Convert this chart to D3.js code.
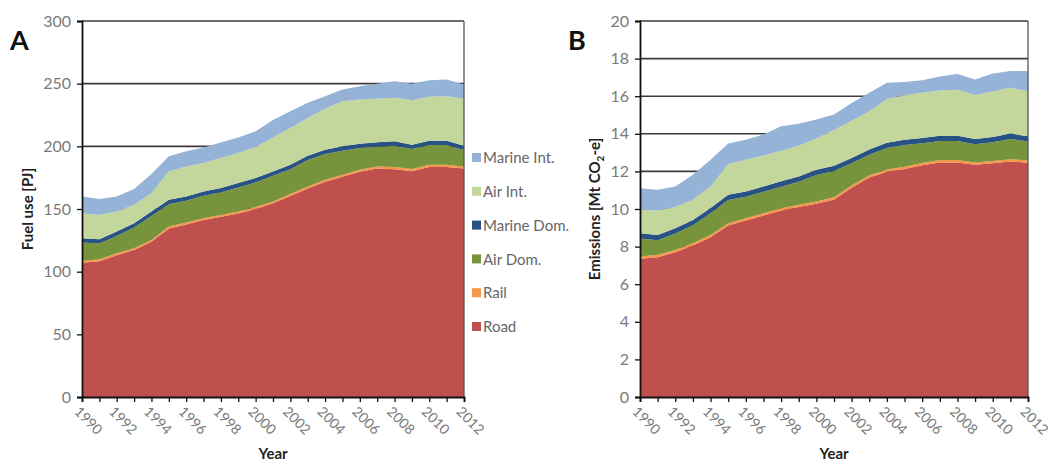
<!DOCTYPE html>
<html>
<head>
<meta charset="utf-8">
<script src="https://cdn.jsdelivr.net/npm/d3@7"></script>
<style>
  html, body { margin: 0; padding: 0; background: #fff; }
  svg { display: block; font-family: Lato, "Open Sans", sans-serif; }
</style>
</head>
<body>
<svg id="chart" width="1054" height="466"></svg>
<script>
// Transport sector, 1990-2012
const years = d3.range(1990, 2013);
const tickYears = d3.range(1990, 2013, 2);

const seriesNames = ["Road", "Rail", "Air Dom.", "Marine Dom.", "Air Int.", "Marine Int."];
const seriesColors = ["#C0504D", "#F79646", "#77933C", "#275283", "#C3D69B", "#95B3D7"];

// Panel A: fuel use [PJ]
const fuelRoad = [107.2, 108.3, 113.1, 117.2, 123.8, 134.5, 137.7, 141.2, 143.8, 146.5, 150.0, 154.5, 160.4, 166.4, 171.7, 175.7, 179.7, 182.3, 181.8, 180.2, 183.6, 183.6, 182.3];
const fuelRail = [1.6, 1.6, 1.6, 1.5, 1.5, 1.5, 1.5, 1.5, 1.5, 1.5, 1.5, 1.5, 1.6, 1.6, 1.6, 1.6, 1.6, 1.7, 1.7, 1.7, 1.7, 1.7, 1.7];
const fuelAirDom = [14.4, 12.5, 13.8, 16.5, 19.2, 17.8, 17.3, 17.8, 17.9, 19.2, 19.7, 20.5, 19.8, 21.0, 20.5, 19.2, 17.3, 15.7, 17.0, 15.9, 15.7, 15.7, 13.0];
const fuelMarineDom = [3.5, 3.5, 3.5, 3.5, 3.5, 3.5, 3.5, 3.5, 3.5, 3.5, 3.5, 3.5, 3.5, 3.5, 3.5, 3.5, 3.5, 3.5, 3.5, 3.5, 3.5, 3.5, 3.5];
const fuelAirInt = [20.0, 19.4, 16.0, 14.6, 14.7, 22.7, 24.0, 22.7, 24.0, 24.0, 24.8, 27.0, 29.4, 30.2, 32.6, 36.0, 35.2, 34.7, 34.7, 35.5, 35.0, 35.5, 37.4];
const fuelMarineInt = [13.3, 12.6, 12.0, 12.7, 15.3, 12.0, 12.0, 12.3, 12.3, 12.3, 12.5, 14.0, 13.3, 12.0, 10.1, 9.3, 10.7, 12.1, 13.3, 13.2, 13.2, 13.3, 11.4];
const fuelTicks = [0, 50, 100, 150, 200, 250, 300];

// Panel B: emissions [Mt CO2-e]
const emisRoad = [7.35, 7.44, 7.70, 8.06, 8.50, 9.12, 9.39, 9.66, 9.92, 10.10, 10.28, 10.50, 11.13, 11.68, 11.98, 12.13, 12.33, 12.48, 12.48, 12.36, 12.43, 12.53, 12.46];
const emisRail = [0.12, 0.12, 0.12, 0.12, 0.12, 0.12, 0.12, 0.12, 0.12, 0.12, 0.12, 0.12, 0.12, 0.12, 0.12, 0.12, 0.12, 0.12, 0.12, 0.12, 0.12, 0.12, 0.12];
const emisAirDom = [0.96, 0.78, 0.88, 0.96, 1.15, 1.24, 1.14, 1.14, 1.15, 1.23, 1.41, 1.40, 1.18, 1.08, 1.14, 1.16, 1.05, 1.02, 1.02, 0.96, 1.00, 1.08, 1.01];
const emisMarineDom = [0.28, 0.28, 0.28, 0.28, 0.28, 0.28, 0.28, 0.28, 0.28, 0.28, 0.28, 0.28, 0.28, 0.28, 0.28, 0.28, 0.28, 0.28, 0.28, 0.28, 0.28, 0.28, 0.28];
const emisAirInt = [1.25, 1.30, 1.12, 1.07, 1.15, 1.64, 1.69, 1.64, 1.63, 1.64, 1.66, 1.90, 1.99, 2.04, 2.33, 2.36, 2.40, 2.40, 2.44, 2.34, 2.42, 2.44, 2.39];
const emisMarineInt = [1.15, 1.10, 1.10, 1.33, 1.42, 1.08, 1.07, 1.12, 1.30, 1.17, 1.01, 0.82, 0.94, 0.98, 0.86, 0.70, 0.67, 0.75, 0.84, 0.83, 0.96, 0.89, 1.08];
const emisTicks = [0, 2, 4, 6, 8, 10, 12, 14, 16, 18, 20];

const svg = d3.select("#chart");
const tickColor = "#7a7a7a";
const gridColor = "#3c3c3c";

function buildRows(cols) {
  return years.map((yr, i) => {
    const row = { year: yr };
    seriesNames.forEach((name, k) => { row[name] = cols[k][i]; });
    return row;
  });
}

function drawPanel(opts) {
  const { left, right, top, bottom, yMax, yTicks, cols, letter, letterX, yTitle, yTitleX } = opts;
  const g = svg.append("g");
  const x = d3.scaleLinear().domain([1990, 2012]).range([left, right]);
  const y = d3.scaleLinear().domain([0, yMax]).range([bottom, top]);

  // gridlines behind the areas
  g.append("g").selectAll("line").data(yTicks.filter(t => t > 0)).join("line")
    .attr("x1", left).attr("x2", right)
    .attr("y1", d => y(d)).attr("y2", d => y(d))
    .attr("stroke", gridColor).attr("stroke-width", 1.6);

  const rows = buildRows(cols);
  const stacked = d3.stack().keys(seriesNames)(rows);
  const area = d3.area()
    .x(d => x(d.data.year))
    .y0(d => y(d[0]))
    .y1(d => y(d[1]));

  g.append("g").selectAll("path").data(stacked).join("path")
    .attr("d", area)
    .attr("fill", (d, i) => seriesColors[i]);

  // right border of the plot area
  g.append("line")
    .attr("x1", right).attr("x2", right).attr("y1", top).attr("y2", bottom)
    .attr("stroke", "#555").attr("stroke-width", 1.3);

  // y axis
  const yAxis = d3.axisLeft(y).tickValues(yTicks).tickSize(5).tickPadding(6).tickFormat(d3.format("d"));
  const ya = g.append("g").attr("transform", `translate(${left},0)`).call(yAxis);
  ya.select(".domain").attr("stroke", "#111").attr("stroke-width", 1.8);
  ya.selectAll(".tick line").attr("stroke", "#111").attr("stroke-width", 1.3);
  ya.selectAll(".tick text").attr("fill", tickColor).attr("font-size", 16).attr("font-family", "Lato, sans-serif");

  // x axis
  const xAxis = d3.axisBottom(x).tickValues(years).tickSize(5).tickFormat("");
  const xa = g.append("g").attr("transform", `translate(0,${bottom})`).call(xAxis);
  xa.select(".domain").attr("stroke", "#111").attr("stroke-width", 1.8);
  xa.selectAll(".tick line").attr("stroke", "#111").attr("stroke-width", 1.3);

  g.append("g").selectAll("text").data(tickYears).join("text")
    .attr("transform", d => `translate(${x(d) - 5},${bottom + 12}) rotate(45)`)
    .attr("text-anchor", "start")
    .attr("dy", "0.35em")
    .attr("fill", tickColor)
    .attr("font-size", 14)
    .text(d => d);

  g.append("text")
    .attr("x", (left + right) / 2).attr("y", 459)
    .attr("text-anchor", "middle")
    .attr("font-weight", "bold").attr("font-size", 15).attr("fill", "#222")
    .text("Year");

  const t = g.append("text")
    .attr("transform", `translate(${yTitleX},${(top + bottom) / 2}) rotate(-90)`)
    .attr("text-anchor", "middle")
    .attr("font-weight", "bold").attr("font-size", 15).attr("fill", "#222");
  yTitle(t);

  g.append("text")
    .attr("x", letterX).attr("y", 50)
    .attr("font-weight", "bold").attr("font-size", 27).attr("fill", "#111")
    .text(letter);
}

drawPanel({
  left: 82, right: 464, top: 21, bottom: 397,
  yMax: 300, yTicks: fuelTicks,
  cols: [fuelRoad, fuelRail, fuelAirDom, fuelMarineDom, fuelAirInt, fuelMarineInt],
  letter: "A", letterX: 10,
  yTitleX: 33,
  yTitle: t => t.text("Fuel use [PJ]")
});

drawPanel({
  left: 640, right: 1028, top: 21, bottom: 397,
  yMax: 20, yTicks: emisTicks,
  cols: [emisRoad, emisRail, emisAirDom, emisMarineDom, emisAirInt, emisMarineInt],
  letter: "B", letterX: 568,
  yTitleX: 600,
  yTitle: t => {
    t.append("tspan").text("Emissions [Mt CO");
    t.append("tspan").attr("font-size", 10).attr("dy", 4).text("2");
    t.append("tspan").attr("dy", -4).text("-e]");
  }
});

// legend, top entry = top of the stack
const legend = svg.append("g");
const legendItems = seriesNames.map((n, i) => ({ name: n, color: seriesColors[i] })).reverse();
const legendY = d3.scalePoint().domain(legendItems.map(d => d.name)).range([158, 327]);
legendItems.forEach(d => {
  const yy = legendY(d.name);
  legend.append("rect").attr("x", 472).attr("y", yy - 5).attr("width", 9).attr("height", 9).attr("fill", d.color);
  legend.append("text").attr("x", 483).attr("y", yy).attr("dy", "0.35em")
    .attr("font-size", 15).attr("fill", "#666").text(d.name);
});
</script>
</body>
</html>
